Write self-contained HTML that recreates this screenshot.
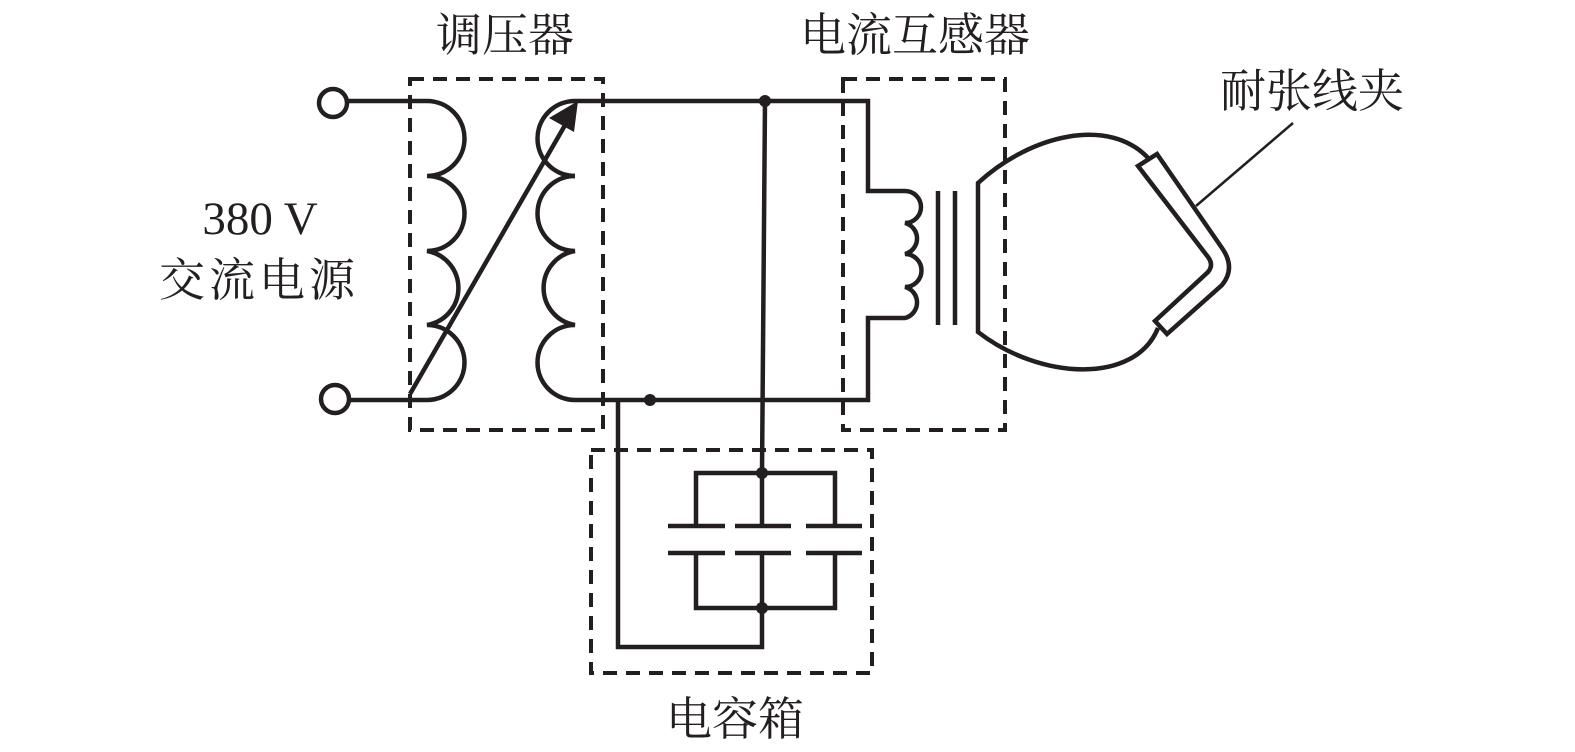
<!DOCTYPE html>
<html><head><meta charset="utf-8"><style>
html,body{margin:0;padding:0;background:#fff;}
svg{display:block;}
text{font-family:"Liberation Serif","Noto Serif CJK SC",serif;fill:#231f20;}
</style></head><body>
<svg width="1575" height="752" viewBox="0 0 1575 752" xmlns="http://www.w3.org/2000/svg">
<g fill="none" stroke="#231f20" stroke-width="4.5">
<g stroke-dasharray="14,9" stroke-width="4">
<rect x="410" y="79" width="193" height="351"/>
<rect x="843" y="79" width="162" height="351"/>
<rect x="591" y="450" width="281" height="223"/>
</g>
<circle cx="333" cy="103" r="14"/>
<circle cx="335" cy="399" r="14"/>
<path d="M347,101 H427 A37.5,37.5 0 0 1 427,176 A37.5,37.5 0 0 1 427,251 A37.5,37.5 0 0 1 427,325 A37.5,37.5 0 0 1 427,400 H349"/>
<path d="M575,176 A37.5,37.5 0 0 1 575,101 H838"/>
<path d="M575,176 A37.5,37.5 0 0 0 575,251 A37.5,37.5 0 0 0 575,325 A37.5,37.5 0 0 0 575,400 H838"/>
<line x1="410" y1="394" x2="568" y2="120"/>
<path d="M838,101 H868 V191 H905 A16,16 0 0 1 905,223 A16,16 0 0 1 905,254 A16,16 0 0 1 905,287 A16,16 0 0 1 905,318 H868 V400 H838"/>
<line x1="938" y1="191" x2="938" y2="325"/>
<line x1="955" y1="191" x2="955" y2="325"/>
<path d="M1150,160 C1110,115 1030,135 978,183 V332 C1040,380 1135,385 1158,328"/>
<path d="M1138,166 L1157,154 L1222,248 Q1236,268 1222,285 L1167,334 L1155,321 L1208,272 Q1214,265 1208,257 Z"/>
<line x1="1196" y1="206" x2="1293" y2="123" stroke-width="2.5"/>
<line x1="765" y1="101" x2="762" y2="473"/>
<path d="M618,400 V647 H762 V608"/>
<path d="M696,526 V473 H835 V526 M762,473 V526"/>
<path d="M696,553 V608 H835 V553 M762,553 V608"/>
<path d="M668,526 H725 M735,526 H791 M806,526 H862"/>
<path d="M668,553 H725 M735,553 H791 M806,553 H862"/>
</g>
<g fill="#231f20">
<polygon points="578,101 574,132 549,118"/>
<circle cx="765" cy="101" r="6"/>
<circle cx="650" cy="400" r="6"/>
<circle cx="762" cy="473" r="6"/>
<circle cx="762" cy="608" r="6"/>
</g>
<g font-size="46">
<text x="505" y="51" text-anchor="middle">调压器</text>
<text x="915" y="51" text-anchor="middle">电流互感器</text>
<text x="1312" y="107" text-anchor="middle">耐张线夹</text>
<text x="260" y="234" text-anchor="middle" font-size="47">380 V</text>
<text x="259" y="296" text-anchor="middle" letter-spacing="4">交流电源</text>
<text x="735" y="735" text-anchor="middle">电容箱</text>
</g>
</svg>
</body></html>
